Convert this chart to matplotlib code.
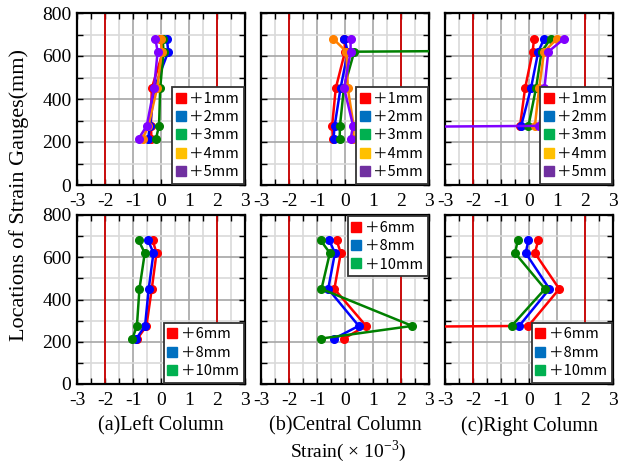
import numpy as np
import matplotlib
matplotlib.use('Agg')
import matplotlib.pyplot as plt
from matplotlib.lines import Line2D

plt.rcParams['font.family'] = ['Liberation Serif', 'DejaVu Serif']
plt.rcParams['axes.unicode_minus'] = False

# gauge heights (mm), bottom to top
gauge_y = [215, 275, 450, 620, 680]

top_labels = ['＋1mm', '＋2mm', '＋3mm', '＋4mm', '＋5mm']
bot_labels = ['＋6mm', '＋8mm', '＋10mm']

# strain (x10^-3) per load step, same order as gauge_y
left_top = [
    [-0.34, -0.36, -0.33, 0.07, -0.02],
    [-0.46, -0.39, -0.24, 0.26, 0.21],
    [-0.18, -0.07, -0.03, 0.09, 0.06],
    [-0.66, -0.45, -0.14, 0.03, 0.00],
    [-0.80, -0.51, -0.25, -0.12, -0.20],
]
central_top = [
    [-0.43, -0.46, -0.33, 0.00, -0.02],
    [-0.41, -0.37, -0.16, 0.10, -0.02],
    [-0.19, -0.18, -0.04, 0.33, 68.0],   # top gauge off scale
    [0.30, 0.31, 0.10, 0.05, -0.42],
    [0.20, 0.29, -0.03, 0.20, 0.20],
]
right_top = [
    [np.nan, -0.32, -0.14, 0.13, 0.18],
    [np.nan, -0.28, 0.07, 0.33, 0.54],
    [np.nan, -0.02, 0.25, 0.45, 0.77],
    [np.nan, 0.21, 0.36, 0.54, 1.00],
    [-68.0, 0.37, 0.55, 0.69, 1.25],    # bottom gauge off scale
]
left_bot = [
    [-0.84, -0.52, -0.33, -0.16, -0.30],
    [-0.88, -0.57, -0.44, -0.27, -0.46],
    [-1.02, -0.86, -0.77, -0.58, -0.80],
]
central_bot = [
    [-0.04, 0.75, -0.38, -0.15, -0.30],
    [-0.38, 0.49, -0.60, -0.36, -0.56],
    [-0.86, 2.40, -0.84, -0.54, -0.87],
]
right_bot = [
    [-68.0, -0.02, 1.08, 0.21, 0.33],   # bottom gauge off scale
    [np.nan, -0.35, 0.73, -0.12, -0.02],
    [np.nan, -0.62, 0.57, -0.50, -0.40],
]

titles = ['(a)Left Column', '(b)Central Column', '(c)Right Column']

line_cols = ['#ff0000', '#0000ff', '#008000', '#ff8000', '#8000ff']
key_cols = ['#ff0000', '#0070c0', '#00b050', '#ffc000', '#7030a0']
line_cols_b = ['#ff0000', '#0000ff', '#008000']
key_cols_b = ['#ff0000', '#0070c0', '#00b050']

fig = plt.figure(figsize=(6.19, 4.63), dpi=100)

lefts = [77/619, 261/619, 445/619]
w = 168/619
top_b, top_h = 1 - 185/463, 172/463
bot_b, bot_h = 1 - 384/463, 169/463

legend_font = {'family': ['Noto Sans CJK JP', 'DejaVu Sans'], 'size': 10.5}


def draw_panel(ax, data, labels, lcols, kcols, loc, show_y):
    ax.set_xlim(-3, 3)
    ax.set_ylim(0, 800)
    ax.set_xticks(np.arange(-3, 4, 1))
    ax.set_xticks(np.arange(-2.5, 3, 1), minor=True)
    ax.set_yticks(np.arange(0, 801, 200))
    ax.set_yticks(np.arange(100, 800, 200), minor=True)
    ax.grid(which='major', color='#a6a6a6', lw=1.2, zorder=0)
    ax.grid(which='minor', color='#d9d9d9', lw=1.2, zorder=0)
    ax.set_axisbelow(True)
    for xv in (-2, 2):
        ax.axvline(xv, color='#cc0000', lw=1.3, zorder=1)
    for vals, c in zip(data, lcols):
        ax.plot(vals, gauge_y, color=c, lw=1.8, marker='o', ms=5.5, zorder=3)
    ax.tick_params(which='both', direction='in', top=True, right=True,
                   length=4, width=1, labelsize=14)
    ax.tick_params(axis='x', pad=6)
    ax.tick_params(axis='y', pad=4)
    if not show_y:
        ax.set_yticklabels([])
    for s in ax.spines.values():
        s.set_linewidth(1.6)
    handles = [Line2D([], [], ls='none', marker='s', ms=7.5, color=c) for c in kcols]
    leg = ax.legend(handles, labels, loc=loc, prop=legend_font, borderaxespad=0.1,
                    handlelength=0.6, handletextpad=0.3, labelspacing=0.3,
                    borderpad=0.3, fancybox=False, framealpha=1)
    leg.get_frame().set_edgecolor('#333333')
    leg.get_frame().set_linewidth(1.3)
    leg.set_zorder(5)


tops = [left_top, central_top, right_top]
bots = [left_bot, central_bot, right_bot]
bot_locs = ['lower right', 'upper right', 'lower right']
for i in range(3):
    ax = fig.add_axes([lefts[i], top_b, w, top_h])
    draw_panel(ax, tops[i], top_labels, line_cols, key_cols, 'lower right', i == 0)
    ax = fig.add_axes([lefts[i], bot_b, w, bot_h])
    draw_panel(ax, bots[i], bot_labels, line_cols_b, key_cols_b, bot_locs[i], i == 0)
    fig.text(lefts[i] + w / 2, 1 - 426/463, titles[i], ha='center', va='center', fontsize=14.5)

fig.text(0.031, 1 - 195/463, 'Locations of Strain Gauges(mm)', rotation=90,
         ha='center', va='center', fontsize=16)
fig.text(348/619, 1 - 451/463, 'Strain( × 10$^{\\mathregular{-3}}$)',
         ha='center', va='center', fontsize=14)

fig.savefig('out.png', dpi=100)
